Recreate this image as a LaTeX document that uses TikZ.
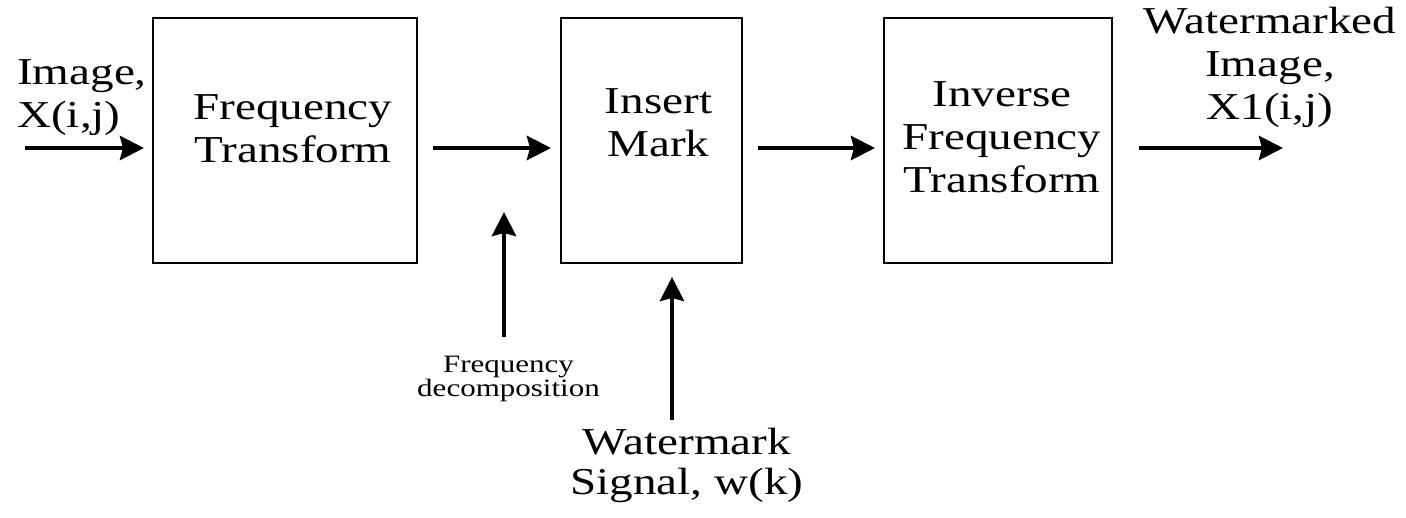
\documentclass[tikz,border=0pt]{standalone}
\usepackage{fontspec}
\setmainfont{Liberation Serif}[FakeStretch=1.24]
\usetikzlibrary{arrows.meta,calc}
\tikzset{
  blk/.style={draw, line width=2pt, inner sep=0pt, minimum height=245pt},
  lbl/.style={align=center, inner sep=0pt, anchor=base, font=\fontsize{38}{43}\selectfont},
  small/.style={align=center, inner sep=0pt, anchor=base, font=\fontsize{25}{24}\selectfont},
  arr/.style={line width=4.5pt, -{Stealth[length=24pt,width=24pt,inset=3pt]}},
}
\begin{document}
\begin{tikzpicture}[x=1pt,y=-1pt]
\useasboundingbox (0,0) rectangle (1406,518);
% blocks
\node[blk, minimum width=264pt] (b1) at (285,140.5) {};
\node[blk, minimum width=181pt] (b2) at (651.5,140.5) {};
\node[blk, minimum width=228pt] (b3) at (998,140.5) {};
% labels (anchor = baseline of last line)
\node[lbl, anchor=base west, align=left] (tin) at (17,128) {Image,\\X(i,j)};
\node[lbl] (t1) at (293,163) {Frequency\\Transform};
\node[lbl] (t2) at (658.5,157) {Insert\\Mark};
\node[lbl] (t3) at (1002,193) {Inverse\\Frequency\\Transform};
\node[lbl] (tout) at (1270,120) {Watermarked\\Image,\\X1(i,j)};
\node[small] (tfd) at (508.5,397) {Frequency\\decomposition};
\node[lbl, font=\fontsize{38}{40}\selectfont] (tws) at (687,494) {Watermark\\Signal, w(k)};
% coordinates
\coordinate (in) at (25,148);
\coordinate (out) at (1283,148);
\coordinate (fdstart) at (504,337);
\coordinate (fdtip) at (504,212);
\coordinate (wsstart) at (672,420);
% connectors
\draw[arr] (in) -- ([xshift=-8pt]b1.west |- in);
\draw[arr] ([xshift=15pt]b1.east |- in) -- ([xshift=-9pt]b2.west |- in);
\draw[arr] ([xshift=15pt]b2.east |- in) -- ([xshift=-8pt]b3.west |- in);
\draw[arr] ([xshift=26pt]b3.east |- out) -- (out);
\draw[arr] (fdstart) -- (fdtip);
\draw[arr] (wsstart) -- ([yshift=-13pt]b2.south -| wsstart);
\end{tikzpicture}
\end{document}
